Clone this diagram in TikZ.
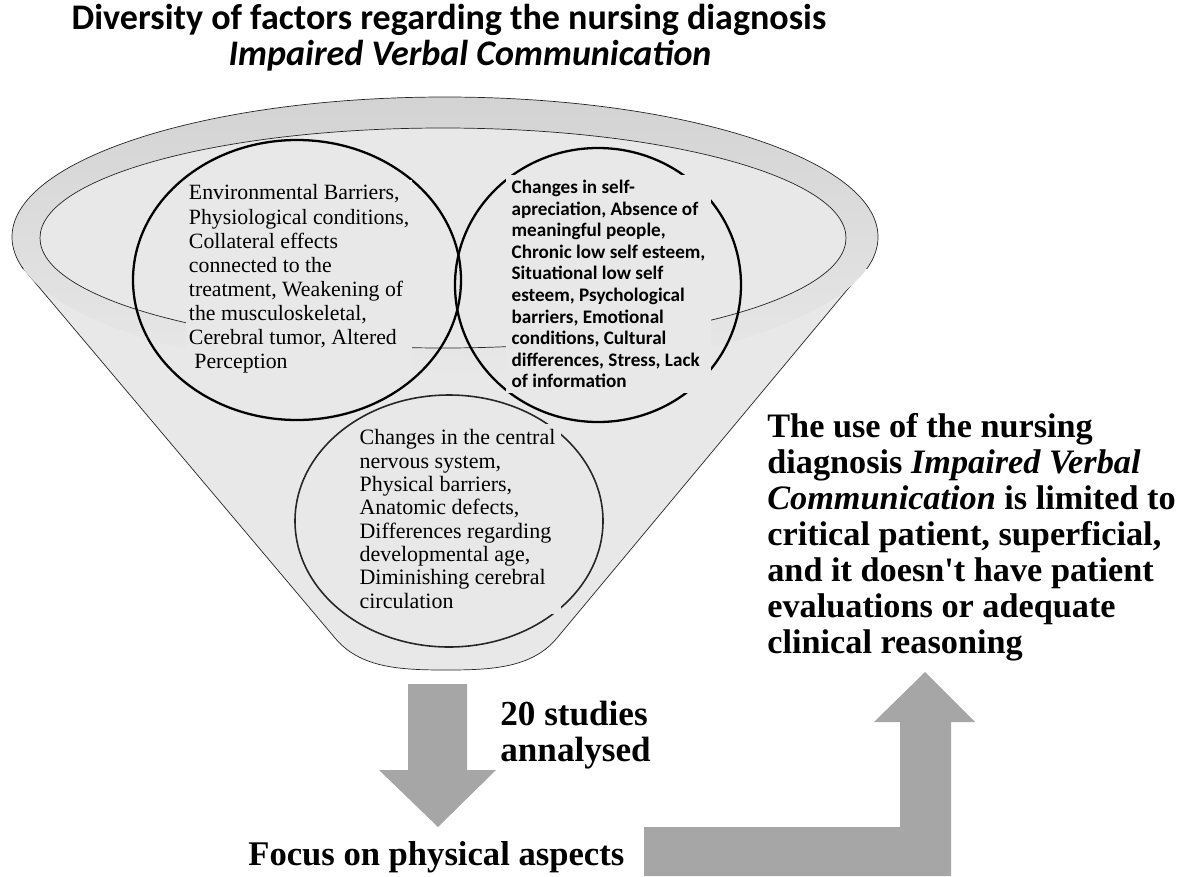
\documentclass[tikz,border=0pt]{standalone}
\usepackage{fontspec}
\setmainfont{Liberation Serif}
\newfontfamily\calfont{Carlito}
\definecolor{funnelgray}{HTML}{E8E8E8}
\definecolor{bandgray}{HTML}{D3D3D3}
\definecolor{arrowgray}{HTML}{A6A6A6}
\tikzset{
  factors/.style={fill=funnelgray, inner sep=3pt, anchor=west, align=left},
  ring/.style={line width=1.3pt},
  bigarrow/.style={fill=arrowgray, draw=none},
  bold text/.style={font=\bfseries\fontsize{20}{20.5}\selectfont, inner sep=0pt, align=left}
}
\begin{document}
\begin{tikzpicture}[x=0.02cm,y=-0.02cm]
        \useasboundingbox (0,0) rectangle (1183,876);

        \filldraw[fill=funnelgray, draw=black!85, thin] (22,267) -- (335,638) .. controls (360,668) and (400,670) .. (446,670) .. controls (492,670) and (532,668) .. (557,638) -- (872,260);
        \shade[top color=bandgray, middle color=bandgray!70!funnelgray, bottom color=funnelgray] (445,237) circle [x radius=433, y radius=140];
        \begin{scope}
            \clip (0,0) rectangle (1183,268);
            \draw[black!85, thin] (445,237) circle [x radius=433, y radius=140];
        \end{scope}
        \filldraw[fill=funnelgray, draw=black!85, thin] (443,238) circle [x radius=403, y radius=110];

        \draw[ring] (297,280) circle [x radius=164, y radius=140];
        \draw[ring] (598,285) circle [x radius=143, y radius=137];
        \draw[black!85, line width=0.9pt] (449,521) circle [x radius=154, y radius=126];

        \draw (449,20) node(title) {\calfont\bfseries\fontsize{20.5}{24}\selectfont Diversity of factors regarding the nursing diagnosis};
        \draw (470,56) node(subtitle) {\calfont\bfseries\itshape\fontsize{20.5}{24}\selectfont Impaired Verbal Communication};

        \draw (186,279) node[factors, inner xsep=1.5pt, font=\fontsize{12.4}{13.7}\selectfont](physio) {Environmental Barriers,\\Physiological conditions,\\Collateral effects\\connected to the\\treatment, Weakening of\\the musculoskeletal,\\Cerebral tumor, Altered\\\ Perception};
        \draw (506,284) node[factors, font=\calfont\bfseries\fontsize{10.9}{12.3}\selectfont](psycho) {Changes in self-\\apreciation, Absence of\\meaningful people,\\Chronic low self esteem,\\Situational low self\\esteem, Psychological\\barriers, Emotional\\conditions, Cultural\\differences, Stress, Lack\\of information};
        \draw (354,519) node[factors, font=\fontsize{12.5}{13.3}\selectfont](neuro) {Changes in the central\\nervous system,\\Physical barriers,\\Anatomic defects,\\Differences regarding\\developmental age,\\Diminishing cerebral\\circulation};

        \fill[bigarrow] (408,684) -- (467,684) -- (467,770) -- (496,770) -- (438,827) -- (379,770) -- (408,770) -- cycle;
        \fill[bigarrow] (644,876) -- (644,827) -- (900,827) -- (900,722) -- (874,722) -- (925,672) -- (975,722) -- (951,722) -- (951,876) -- cycle;

        \draw (500,735) node[bold text, anchor=west](studies) {20 studies\\annalysed};
        \draw (248,857) node[bold text, font=\bfseries\fontsize{19.7}{20.5}\selectfont, anchor=west](focus) {Focus on physical aspects};
        \draw (767,537) node[bold text, font=\bfseries\fontsize{19.5}{20.5}\selectfont, anchor=west](limited) {The use of the nursing\\diagnosis \textit{Impaired Verbal}\\\textit{Communication} is limited to\\critical patient, superficial,\\and it doesn\textquotesingle t have patient\\evaluations or adequate\\clinical reasoning};
    \end{tikzpicture}
\end{document}
